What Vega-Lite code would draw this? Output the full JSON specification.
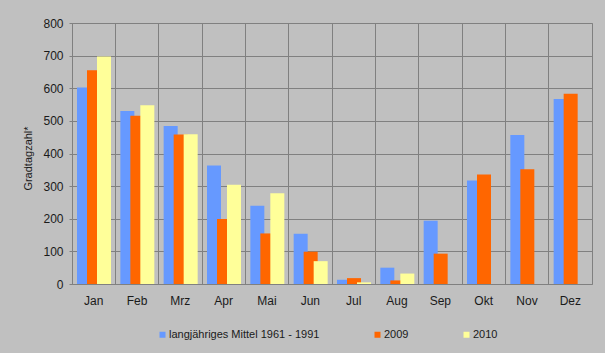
{
  "$schema": "https://vega.github.io/schema/vega-lite/v6.json",
  "width": 520,
  "height": 261,
  "autosize": {"type": "none"},
  "padding": {"left": 72, "top": 23, "right": 13, "bottom": 69},
  "background": "#c0c0c0",
  "config": {
    "font": "Liberation Sans",
    "view": {"stroke": "#808080", "strokeWidth": 1, "fill": "#c0c0c0"}
  },
  "data": {
    "values": [
      {"Monat": "Jan", "Reihe": "langjähriges Mittel 1961 - 1991", "Wert": 602},
      {"Monat": "Jan", "Reihe": "2009", "Wert": 655},
      {"Monat": "Jan", "Reihe": "2010", "Wert": 697},
      {"Monat": "Feb", "Reihe": "langjähriges Mittel 1961 - 1991", "Wert": 530},
      {"Monat": "Feb", "Reihe": "2009", "Wert": 516},
      {"Monat": "Feb", "Reihe": "2010", "Wert": 548},
      {"Monat": "Mrz", "Reihe": "langjähriges Mittel 1961 - 1991", "Wert": 484},
      {"Monat": "Mrz", "Reihe": "2009", "Wert": 458},
      {"Monat": "Mrz", "Reihe": "2010", "Wert": 459},
      {"Monat": "Apr", "Reihe": "langjähriges Mittel 1961 - 1991", "Wert": 363},
      {"Monat": "Apr", "Reihe": "2009", "Wert": 199},
      {"Monat": "Apr", "Reihe": "2010", "Wert": 304},
      {"Monat": "Mai", "Reihe": "langjähriges Mittel 1961 - 1991", "Wert": 240},
      {"Monat": "Mai", "Reihe": "2009", "Wert": 155},
      {"Monat": "Mai", "Reihe": "2010", "Wert": 278},
      {"Monat": "Jun", "Reihe": "langjähriges Mittel 1961 - 1991", "Wert": 154},
      {"Monat": "Jun", "Reihe": "2009", "Wert": 99},
      {"Monat": "Jun", "Reihe": "2010", "Wert": 70},
      {"Monat": "Jul", "Reihe": "langjähriges Mittel 1961 - 1991", "Wert": 13},
      {"Monat": "Jul", "Reihe": "2009", "Wert": 18},
      {"Monat": "Jul", "Reihe": "2010", "Wert": 5},
      {"Monat": "Aug", "Reihe": "langjähriges Mittel 1961 - 1991", "Wert": 50},
      {"Monat": "Aug", "Reihe": "2009", "Wert": 11},
      {"Monat": "Aug", "Reihe": "2010", "Wert": 32},
      {"Monat": "Sep", "Reihe": "langjähriges Mittel 1961 - 1991", "Wert": 194},
      {"Monat": "Sep", "Reihe": "2009", "Wert": 93},
      {"Monat": "Okt", "Reihe": "langjähriges Mittel 1961 - 1991", "Wert": 317},
      {"Monat": "Okt", "Reihe": "2009", "Wert": 336},
      {"Monat": "Nov", "Reihe": "langjähriges Mittel 1961 - 1991", "Wert": 457},
      {"Monat": "Nov", "Reihe": "2009", "Wert": 352},
      {"Monat": "Dez", "Reihe": "langjähriges Mittel 1961 - 1991", "Wert": 567},
      {"Monat": "Dez", "Reihe": "2009", "Wert": 583}
    ]
  },
  "mark": {"type": "bar", "width": 14},
  "encoding": {
    "x": {
      "field": "Monat",
      "type": "nominal",
      "sort": ["Jan", "Feb", "Mrz", "Apr", "Mai", "Jun", "Jul", "Aug", "Sep", "Okt", "Nov", "Dez"],
      "scale": {"paddingInner": 0, "paddingOuter": 0},
      "axis": {
        "title": null,
        "labelAngle": 0,
        "labelFontSize": 12,
        "labelColor": "#1a1a1a",
        "labelPadding": 11,
        "ticks": false,
        "domain": false,
        "grid": true,
        "bandPosition": 0,
        "gridColor": "#808080",
        "gridOpacity": 1,
        "gridWidth": 1
      }
    },
    "xOffset": {
      "field": "Reihe",
      "type": "nominal",
      "sort": ["langjähriges Mittel 1961 - 1991", "2009", "2010"],
      "scale": {"range": [7, 37], "paddingInner": 0, "paddingOuter": 0}
    },
    "y": {
      "field": "Wert",
      "type": "quantitative",
      "scale": {"domain": [0, 800], "nice": false},
      "axis": {
        "title": "Gradtagzahl*",
        "titleFontSize": 11,
        "titleFontWeight": "normal",
        "titleColor": "#1a1a1a",
        "titleX": -41,
        "titleY": 135,
        "titleAlign": "center",
        "titleAngle": -90,
        "titleBaseline": "alphabetic",
        "values": [0, 100, 200, 300, 400, 500, 600, 700, 800],
        "labelFontSize": 12,
        "labelColor": "#1a1a1a",
        "labelPadding": 6,
        "tickSize": 3,
        "tickColor": "#808080",
        "domainColor": "#808080",
        "gridColor": "#808080",
        "gridOpacity": 1,
        "gridWidth": 1
      }
    },
    "color": {
      "field": "Reihe",
      "type": "nominal",
      "sort": ["langjähriges Mittel 1961 - 1991", "2009", "2010"],
      "scale": {
        "domain": ["langjähriges Mittel 1961 - 1991", "2009", "2010"],
        "range": ["#6699ff", "#ff6600", "#ffff99"]
      },
      "legend": {
        "title": null,
        "orient": "none",
        "direction": "horizontal",
        "legendX": 85,
        "legendY": 306,
        "symbolType": "square",
        "symbolSize": 36,
        "symbolStrokeWidth": 0,
        "labelFontSize": 11,
        "labelColor": "#1a1a1a",
        "labelOffset": 1,
        "labelLimit": 300,
        "columnPadding": 52
      }
    }
  }
}
